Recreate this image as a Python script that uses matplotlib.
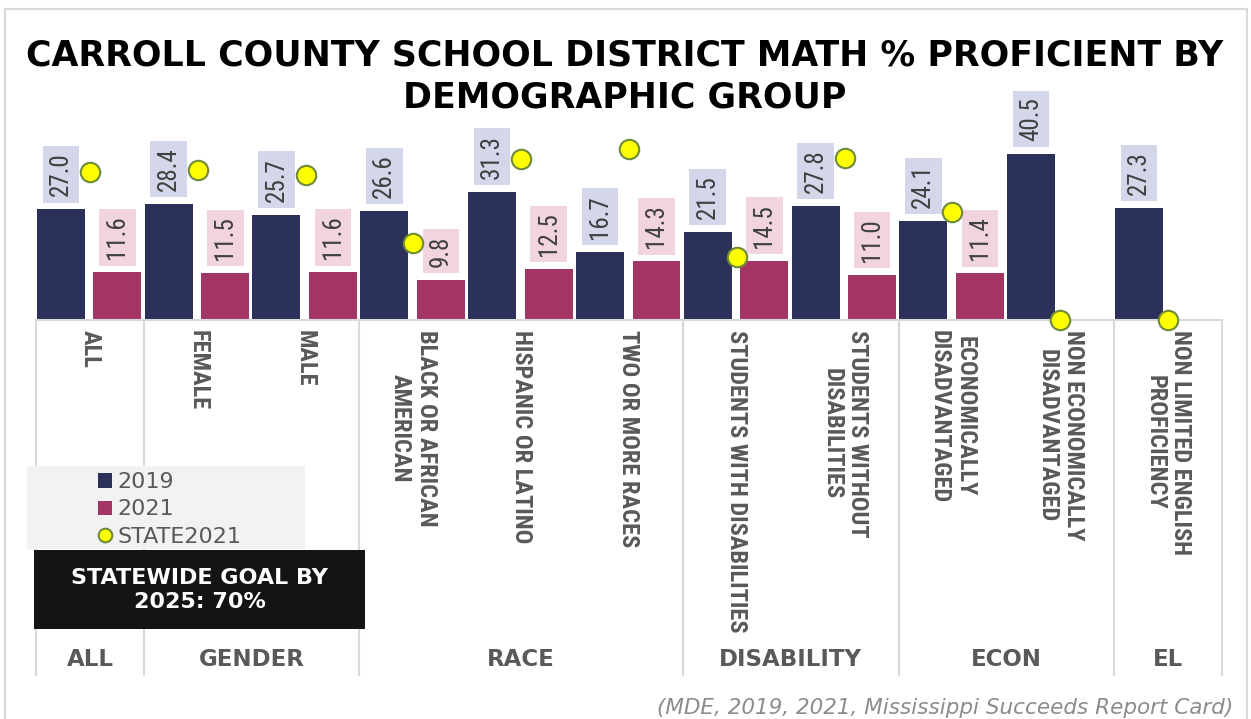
import numpy as np
import matplotlib
matplotlib.use("Agg")
import matplotlib.pyplot as plt
from matplotlib.patches import Rectangle
from matplotlib import font_manager

# ---------------- data ----------------
categories = ["ALL", "FEMALE", "MALE", "BLACK OR AFRICAN\nAMERICAN", "HISPANIC OR LATINO",
              "TWO OR MORE RACES", "STUDENTS WITH DISABILITIES", "STUDENTS WITHOUT\nDISABILITIES",
              "ECONOMICALLY\nDISADVANTAGED", "NON ECONOMICALLY\nDISADVANTAGED",
              "NON LIMITED ENGLISH\nPROFICIENCY"]
values_2019 = [27.0, 28.4, 25.7, 26.6, 31.3, 16.7, 21.5, 27.8, 24.1, 40.5, 27.3]
values_2021 = [11.6, 11.5, 11.6, 9.8, 12.5, 14.3, 14.5, 11.0, 11.4, np.nan, np.nan]
state_2021 = [36.1, 36.6, 35.4, 18.7, 39.2, 41.6, 15.4, 39.4, 26.4, 0.0, 0.0]
groups = ["ALL", "GENDER", "RACE", "DISABILITY", "ECON", "EL"]
group_sizes = [1, 2, 3, 2, 2, 1]
series_names = ["2019", "2021", "STATE2021"]

title_lines = ["CARROLL COUNTY SCHOOL DISTRICT MATH % PROFICIENT BY", "DEMOGRAPHIC GROUP"]
goal_text = "STATEWIDE GOAL BY\n2025: 70%"
source_text = "(MDE, 2019, 2021, Mississippi Succeeds Report Card)"

# ---------------- style ----------------
C19 = "#2B3158"
C21 = "#A23563"
BOX19 = "#D3D7E9"
BOX21 = "#F2D4E0"
GRID = "#D9D9D9"
LABEL = "#595959"


def pick_family(cands):
    for c in cands:
        try:
            font_manager.findfont(font_manager.FontProperties(family=c), fallback_to_default=False)
            return c
        except Exception:
            continue
    return "DejaVu Sans"


NARROW = pick_family(["Liberation Sans Narrow", "Roboto Condensed", "Open Sans Condensed",
                      "DejaVu Sans Condensed", "Liberation Sans"])

W, H = 1251, 719
fig = plt.figure(figsize=(W / 100, H / 100), dpi=100)
fig.patch.set_facecolor("white")
renderer = fig.canvas.get_renderer()


def fit_size(text, target_px, **kw):
    base = 20
    t = fig.text(0, 0, text, fontsize=base, **kw)
    w = t.get_window_extent(renderer).width
    t.remove()
    return base * target_px / w


def fx(px):
    return px / W


def fy(py):
    return 1 - py / H


CAT_SIZE = fit_size("STUDENTS WITH DISABILITIES", 303, family=NARROW, fontweight="bold")
VAL_SIZE = fit_size("27.0", 44, family=NARROW)

# axes: x 36..1222 px, y baseline 320 px, top 120 px
ax = fig.add_axes([fx(36), fy(320), fx(1222) - fx(36), fy(120) - fy(320)])
ax.set_xlim(-0.5, len(categories) - 0.5)
ax.set_ylim(0, 200 / 4.1)
ax.set_facecolor("none")
for s in ["top", "right", "left"]:
    ax.spines[s].set_visible(False)
ax.spines["bottom"].set_color(GRID)
ax.spines["bottom"].set_linewidth(1.5)
ax.set_xticks([])
ax.set_yticks([])

x = np.arange(len(categories))
bw = 0.445
b19 = ax.bar(x - 0.27, values_2019, bw, color=C19, zorder=2)
b21 = ax.bar(x + 0.255, values_2021, bw, color=C21, zorder=2)
ln, = ax.plot(x, state_2021, linestyle="none", marker="o", markersize=14,
              markerfacecolor="#FFFF00", markeredgecolor="#6E8A3A", markeredgewidth=1.5,
              zorder=5, clip_on=False)


def add_labels(xs, vals, fc):
    for xi, v in zip(xs, vals):
        if np.isnan(v):
            continue
        ax.annotate(f"{v:.1f}", xy=(xi, v), xytext=(0, 13), textcoords="offset pixels",
                    rotation=90, ha="center", va="bottom", fontsize=VAL_SIZE, family=NARROW,
                    color="#404040", zorder=4,
                    bbox=dict(boxstyle="square,pad=0.25", fc=fc, ec="none"))


add_labels(x - 0.27, values_2019, BOX19)
add_labels(x + 0.255, values_2021, BOX21)

# category labels
tr = ax.get_xaxis_transform()
for xi, lab in zip(x, categories):
    ax.text(xi, -10 / 200, lab, transform=tr, rotation=270, ha="center", va="top",
            multialignment="center", fontsize=CAT_SIZE, family=NARROW, fontweight="bold",
            color=LABEL, linespacing=1.15)

# group separators and group labels
bounds = np.concatenate([[0], np.cumsum(group_sizes)]) - 0.5
for b in bounds:
    ax.plot([b, b], [0, -355 / 200], transform=tr, color=GRID, lw=1.5, clip_on=False, zorder=1)
for g, s, e in zip(groups, bounds[:-1], bounds[1:]):
    ax.text((s + e) / 2, -340 / 200, g, transform=tr, ha="center", va="center",
            fontsize=16.5, fontweight="bold", color=LABEL)

# outer border
fig.patches.append(Rectangle((fx(5), fy(725)), fx(1247) - fx(5), fy(9) - fy(725),
                             transform=fig.transFigure, fill=False, ec=GRID, lw=1.5))

# legend background and legend
fig.patches.append(Rectangle((fx(27), fy(549)), fx(305) - fx(27), fy(466) - fy(549),
                             transform=fig.transFigure, fc="#F2F2F2", ec="none", zorder=3))
leg = fig.legend([b19, b21, ln], series_names, loc="upper left",
                 bbox_to_anchor=(fx(85), fy(459)), bbox_transform=fig.transFigure,
                 frameon=False, fontsize=16, labelcolor=LABEL, handlelength=0.6,
                 handleheight=0.6, handletextpad=0.25, labelspacing=0.32, borderpad=0.1,
                 markerscale=0.7)
leg.set_zorder(10)

# goal box
fig.patches.append(Rectangle((fx(34), fy(629)), fx(365) - fx(34), fy(550) - fy(629),
                             transform=fig.transFigure, fc="#141414", ec="none", zorder=3))
fig.text(fx(199.5), fy(590), goal_text, ha="center", va="center", color="white",
         fontsize=16, fontweight="bold", linespacing=1.25, zorder=11)

# title (two lines)
fig.text(fx(625), fy(55), title_lines[0], ha="center", va="center", fontsize=25,
         fontweight="bold", color="black")
fig.text(fx(625), fy(97), title_lines[1], ha="center", va="center", fontsize=25,
         fontweight="bold", color="black")

# source
fig.text(fx(1233), fy(708), source_text, ha="right", va="center", fontsize=15.5,
         style="italic", color="#8C8C8C")

fig.savefig("out.png", dpi=100)
